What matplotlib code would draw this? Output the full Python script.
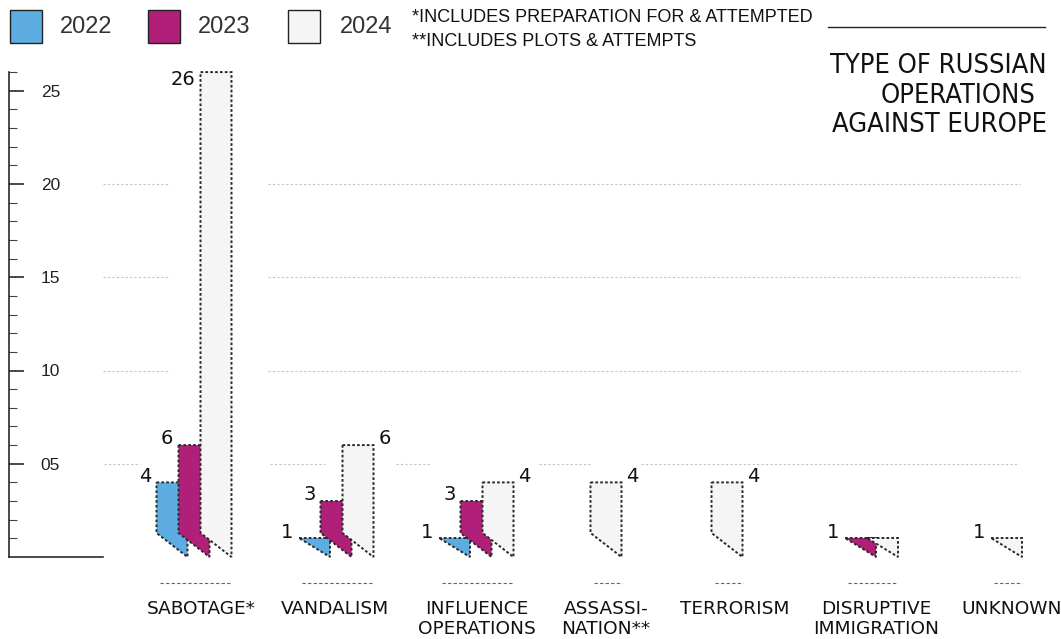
import matplotlib
matplotlib.use("Agg")
import matplotlib.pyplot as plt
import matplotlib.transforms as mtransforms
from matplotlib.patches import Polygon, Rectangle
from matplotlib.lines import Line2D
from matplotlib.ticker import FixedLocator, FuncFormatter

# data
categories = ["SABOTAGE*", "VANDALISM", "INFLUENCE\nOPERATIONS", "ASSASSI-\nNATION**",
              "TERRORISM", "DISRUPTIVE\nIMMIGRATION", "UNKNOWN"]
years = ["2022", "2023", "2024"]
v2022 = [4, 1, 1, 0, 0, 0, 0]
v2023 = [6, 3, 3, 0, 0, 1, 0]
v2024 = [26, 6, 4, 4, 4, 1, 1]
notes = ["*INCLUDES PREPARATION FOR & ATTEMPTED", "**INCLUDES PLOTS & ATTEMPTS"]
title_lines = ["TYPE OF RUSSIAN", "OPERATIONS", "AGAINST EUROPE"]

colors = ["#5dade2", "#b01f78", "#f5f5f5"]

# layout (pixels)
W, H = 1061, 639
PX = 18.65          # pixels per unit
Y0 = 557            # pixel row of zero
bar_centers = [194, 336, 476, 606, 727, 871, 1006]
label_x = [201, 335, 477, 606, 735, 876, 1012]
label_side_2024 = ["left", "right", "right", "right", "right", None, "left"]
bar_w = 31
bar_step = 22
fold = 1.29
grid_segs = {20: [(103, 170), (268, 1020)],
             15: [(103, 170), (268, 1020)],
             10: [(103, 170), (268, 1020)],
             5: [(104, 140), (270, 325), (396, 431), (539, 590), (641, 1019)]}
P2PT = 72 / 100     # pixel -> point

plt.rcParams['font.family'] = ['Liberation Sans', 'DejaVu Sans']

fig = plt.figure(figsize=(W / 100, H / 100), dpi=100)
ax = fig.add_axes([0, 0, 1, 1])
ax.set_xlim(0, W)
ax.set_ylim((Y0 - H) / PX, Y0 / PX)
pix = mtransforms.Affine2D().scale(1 / W, -1 / H).translate(0, 1) + fig.transFigure

# axis
ax.spines[['top', 'right']].set_visible(False)
for s in ['left', 'bottom']:
    ax.spines[s].set_linewidth(1.6 * P2PT)
    ax.spines[s].set_color('#222222')
ax.spines['left'].set_position(('data', 9))
ax.spines['left'].set_bounds(0, 26)
ax.spines['bottom'].set_position(('data', 0))
ax.spines['bottom'].set_bounds(9, 103)
ax.set_xticks([])
ax.yaxis.set_major_locator(FixedLocator([5, 10, 15, 20, 25]))
ax.yaxis.set_minor_locator(FixedLocator([i for i in range(1, 27) if i % 5]))
ax.yaxis.set_major_formatter(FuncFormatter(lambda v, p: "%02d" % v))
ax.tick_params(axis='y', which='major', direction='in', length=15 * P2PT,
               width=1.6 * P2PT, color='#222222', pad=-51 * P2PT,
               labelsize=12.5, labelcolor='#222222')
ax.tick_params(axis='y', which='minor', direction='in', length=8 * P2PT,
               width=1.1 * P2PT, color='#444444')

# grid pieces
for v, segs in grid_segs.items():
    for a, b in segs:
        ax.plot([a, b], [v, v], color='#c4c4c4', lw=0.8, linestyle=(0, (2, 2)), zorder=1)

# bars
for gi in range(len(categories)):
    vals = [v2022[gi], v2023[gi], v2024[gi]]
    present = [k for k in range(3) if vals[k] > 0]
    total = bar_w + (len(present) - 1) * bar_step
    left0 = bar_centers[gi] - total / 2
    for j, k in enumerate(present):
        x0 = left0 + j * bar_step
        v = vals[k]
        if v > fold:
            pts = [(x0, v), (x0 + bar_w, v), (x0 + bar_w, 0), (x0, fold)]
        else:
            pts = [(x0, v), (x0 + bar_w, v), (x0 + bar_w, 0)]
        ax.add_patch(Polygon(pts, closed=True, facecolor=colors[k], edgecolor='#2a2a2a',
                             linestyle=(0, (1.4, 1.1)), lw=1.4, zorder=3 + k))
        side = "left" if k < 2 else label_side_2024[gi]
        if side is None:
            continue
        ty = v + 0.33 if v < 20 else v - 0.4
        if side == "left":
            ax.text(x0 - 5, ty, str(v), ha='right', va='center', fontsize=14,
                    family='DejaVu Sans', color='#111111', zorder=10)
        else:
            ax.text(x0 + bar_w + 5, ty, str(v), ha='left', va='center', fontsize=14,
                    family='DejaVu Sans', color='#111111', zorder=10)
    ax.plot([left0 + 3, left0 + total], [(Y0 - 583) / PX] * 2, color='#666666', lw=0.8,
            linestyle=(0, (3, 2)), zorder=2)
    ax.text(label_x[gi], (Y0 - 600) / PX, categories[gi], ha='center', va='top',
            fontsize=13.3, family='DejaVu Sans', linespacing=1.17, color='#111111')

# legend
for k, (sx, tx) in enumerate(zip([10, 148, 288], [60, 198, 340])):
    fig.patches.append(Rectangle((sx, 10), 32, 33, transform=pix, facecolor=colors[k],
                                 edgecolor='#222222', lw=1.0))
    fig.text(tx, 27, years[k], transform=pix, ha='left', va='center', fontsize=17,
             color='#333333')

# footnotes and title
fig.text(412, 18, notes[0], transform=pix, ha='left', va='center', fontsize=13, color='#111111')
fig.text(412, 42, notes[1], transform=pix, ha='left', va='center', fontsize=13, color='#111111')
fig.lines.append(Line2D([828, 1045], [27, 27], transform=pix, color='#222222', lw=1.0))
for line, ry, yy in zip(title_lines, [1047, 1035, 1047], [66, 96, 125]):
    fig.text(ry, yy, line, transform=pix, ha='right', va='center', fontsize=19.5,
             family='DejaVu Sans', fontstretch='condensed', color='#111111')

fig.savefig("out.png", dpi=100)
